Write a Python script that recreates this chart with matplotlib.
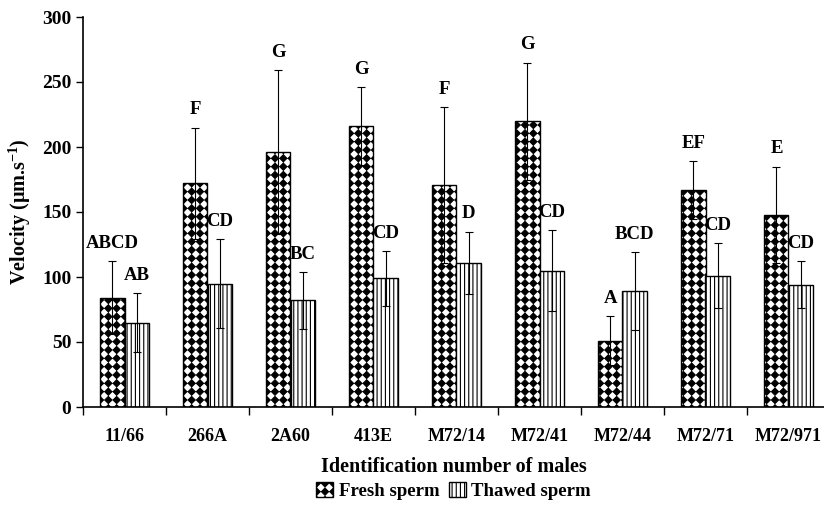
import numpy as np
import matplotlib
matplotlib.use("Agg")
import matplotlib.pyplot as plt
import matplotlib.hatch as mhatch
from matplotlib.path import Path

# data: mean velocity and SD for each male
males = ['11/66', '266A', '2A60', '413E', 'M72/14', 'M72/41', 'M72/44', 'M72/71', 'M72/971']
fresh_mean = [84, 172, 196, 216, 171, 220, 51, 167, 148]
fresh_sd = [28, 43, 63, 30, 60, 45, 19, 22, 37]
thawed_mean = [65, 95, 82, 99, 111, 105, 89, 101, 94]
thawed_sd = [23, 34, 22, 21, 24, 31, 30, 25, 18]
fresh_letters = ['ABCD', 'F', 'G', 'G', 'F', 'G', 'A', 'EF', 'E']
thawed_letters = ['AB', 'CD', 'BC', 'CD', 'D', 'CD', 'BCD', 'CD', 'CD']


# square grid of filled diamonds, used in place of the '.' hatch
class Diamonds(mhatch.HatchPatternBase):
    def __init__(self, hatch, density):
        self.n = hatch.count('.') * 4
        self.num_vertices = 5 * (self.n + 1) ** 2 if self.n else 0

    def set_vertices_and_codes(self, vertices, codes):
        h = 0.43 / self.n
        shape = np.array([[0, -h], [h, 0], [0, h], [-h, 0], [0, -h]])
        scodes = [Path.MOVETO, Path.LINETO, Path.LINETO, Path.LINETO, Path.CLOSEPOLY]
        pos = np.linspace(0, 1, self.n + 1)
        vparts, cparts = [], []
        for y in pos:
            for x in pos:
                vparts.append(shape + [x, y])
                cparts.append(scodes)
        np.concatenate(vparts, out=vertices)
        np.concatenate(cparts, out=codes)


mhatch._hatch_types = [t for t in mhatch._hatch_types
                       if t is not mhatch.SmallFilledCircles] + [Diamonds]

plt.rcParams['font.family'] = ['Liberation Serif', 'DejaVu Serif']
plt.rcParams['font.weight'] = 'bold'
plt.rcParams['mathtext.fontset'] = 'custom'
plt.rcParams['mathtext.rm'] = 'Liberation Serif:bold'
plt.rcParams['mathtext.bf'] = 'Liberation Serif:bold'
plt.rcParams['hatch.linewidth'] = 0.8

fig = plt.figure(figsize=(8.24, 5.07), dpi=100)
ax = fig.add_axes([83 / 824, 100 / 507, 741 / 824, 390 / 507])

x = np.arange(len(males))
w = 0.29
b1 = ax.bar(x - w / 2, fresh_mean, w, color='white', edgecolor='black',
            linewidth=1.0, hatch='...', label='Fresh sperm')
b2 = ax.bar(x + w / 2, thawed_mean, w, color='white', edgecolor='black',
            linewidth=1.0, hatch='||||', label='Thawed sperm')
ax.errorbar(x - w / 2, fresh_mean, yerr=fresh_sd, fmt='none', ecolor='black',
            elinewidth=0.8, capsize=3, capthick=0.8)
ax.errorbar(x + w / 2, thawed_mean, yerr=thawed_sd, fmt='none', ecolor='black',
            elinewidth=0.8, capsize=3, capthick=0.8)

for i in range(len(males)):
    ax.text(x[i] - w / 2, fresh_mean[i] + fresh_sd[i] + 7, fresh_letters[i],
            ha='center', va='bottom', fontsize=13.5, fontweight='bold')
    ax.text(x[i] + w / 2, thawed_mean[i] + thawed_sd[i] + 7, thawed_letters[i],
            ha='center', va='bottom', fontsize=13.5, fontweight='bold')

ax.set_xlim(-0.5, -0.5 + 741 / 83)
ax.set_ylim(0, 300)
ax.set_yticks(range(0, 301, 50))
ax.set_xticks(np.arange(len(males)) - 0.5)
ax.set_xticklabels([])
for i, name in enumerate(males):
    ax.text(x[i], -23, name, ha='center', va='center', fontsize=13,
            fontweight='bold')
ax.tick_params(axis='x', direction='out', length=6, width=1)
ax.tick_params(axis='y', direction='out', length=5, width=1, labelsize=14)
for lab in ax.get_yticklabels():
    lab.set_fontweight('bold')
ax.spines['top'].set_visible(False)
ax.spines['right'].set_visible(False)
ax.spines['left'].set_linewidth(1.2)
ax.spines['bottom'].set_linewidth(1.2)

ax.set_ylabel(r'Velocity (μm.s$^{-1}$)', fontsize=14.5, fontweight='bold', labelpad=6)
ax.text(0.5, -0.155, 'Identification number of males', transform=ax.transAxes,
        ha='center', va='center', fontsize=14.5, fontweight='bold')
ax.legend(handles=[b1, b2], loc='center', bbox_to_anchor=(0.5, -0.215),
          ncol=2, frameon=False, fontsize=13.5, handlelength=0.9, handleheight=0.9,
          handletextpad=0.3, columnspacing=0.5, borderpad=0)

fig.savefig('out.png', dpi=100)
